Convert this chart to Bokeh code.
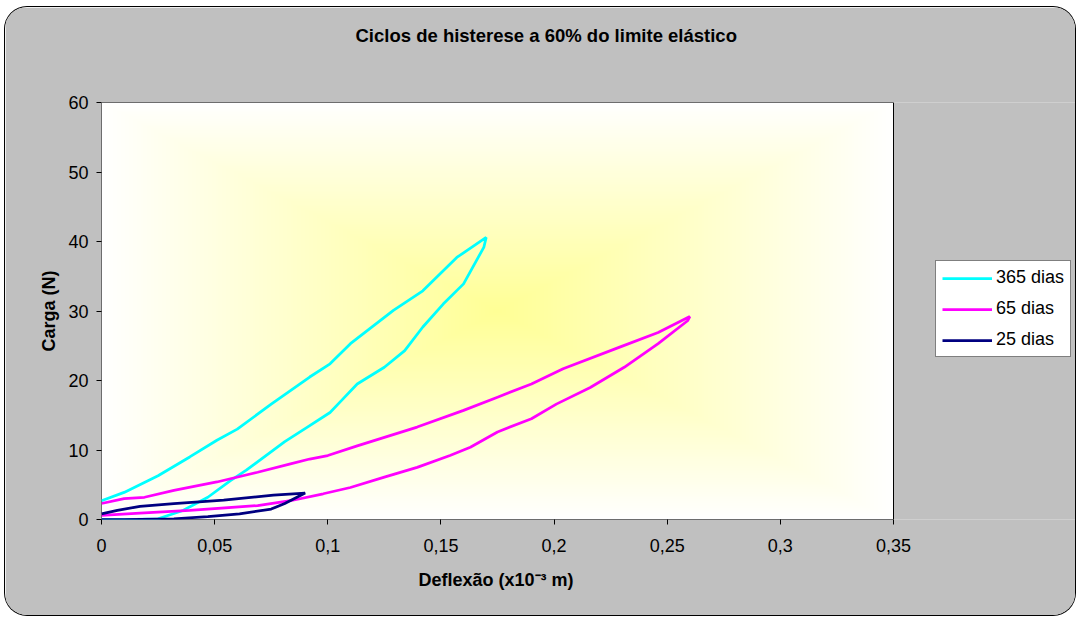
import numpy as np
from bokeh.plotting import figure
from bokeh.models import Range1d, FixedTicker, Legend, LegendItem, Title
from bokeh.embed import file_html
from bokeh.resources import INLINE

# ---- data ----
x365 = [0, 0.01, 0.025, 0.039, 0.051, 0.06, 0.075, 0.092, 0.101, 0.11, 0.129, 0.142, 0.157, 0.17,
        0.169, 0.16, 0.151, 0.142, 0.134, 0.125, 0.113, 0.106, 0.101, 0.091, 0.081, 0.064, 0.057,
        0.047, 0.036, 0.025, 0.01, 0]
y365 = [2.7, 3.9, 6.3, 9.0, 11.4, 13.0, 16.6, 20.5, 22.4, 25.3, 30.1, 32.9, 37.7, 40.6,
        39.2, 33.9, 31.0, 27.7, 24.3, 21.9, 19.5, 17.1, 15.4, 13.3, 11.2, 7.1, 5.6,
        3.2, 1.3, 0.1, 0, 0]

x65 = [0, 0.01, 0.019, 0.032, 0.051, 0.069, 0.0835, 0.092, 0.1, 0.113, 0.1395, 0.16, 0.175, 0.19,
       0.204, 0.229, 0.246, 0.26,
       0.259, 0.246, 0.231, 0.216, 0.201, 0.19, 0.175, 0.163, 0.154, 0.1395, 0.125, 0.11, 0.098,
       0.0835, 0.069, 0.039, 0.017, 0]
y65 = [2.3, 3.0, 3.2, 4.2, 5.4, 6.8, 8.0, 8.7, 9.2, 10.6, 13.3, 15.7, 17.6, 19.5,
       21.7, 24.8, 26.9, 29.2,
       28.6, 25.3, 21.9, 19.0, 16.6, 14.5, 12.6, 10.4, 9.2, 7.5, 6.1, 4.6, 3.7,
       2.7, 2.0, 1.3, 0.9, 0.6]

x25 = [0, 0.007, 0.017, 0.032, 0.054, 0.076, 0.09, 0.081, 0.075, 0.061, 0.047, 0.032, 0.01, 0]
y25 = [0.8, 1.3, 1.9, 2.3, 2.8, 3.5, 3.8, 2.3, 1.5, 0.8, 0.4, 0.1, 0, 0]

series_names = ["365 dias", "65 dias", "25 dias"]
series_colors = ["#00FFFF", "#FF00FF", "#000080"]

x_min, x_max = 0, 0.35
y_min, y_max = 0, 60
x_ticks = [0, 0.05, 0.1, 0.15, 0.2, 0.25, 0.3, 0.35]
x_tick_labels = ["0", "0,05", "0,1", "0,15", "0,2", "0,25", "0,3", "0,35"]
y_ticks = [0, 10, 20, 30, 40, 50, 60]

title_text = "Ciclos de histerese a 60% do limite elástico"
x_label = "Deflexão (x10⁻³ m)"
y_label = "Carga (N)"

FONT = "Liberation Sans"
FS = "18px"
GREY = "#C0C0C0"

# layout (pixels)
W, H = 1070, 608
LEFT, TOP, BOTTOM = 96, 95, 96
PLOT_W = 792                      # width of the white plot area
FRAME_W = W - LEFT                # frame extends to the right edge (legend lives there)
x_view_max = x_max * FRAME_W / PLOT_W

p = figure(width=W, height=H, x_range=Range1d(x_min, x_view_max), y_range=Range1d(y_min, y_max),
           output_backend="svg", toolbar_location=None,
           min_border_left=LEFT, min_border_right=0, min_border_top=TOP, min_border_bottom=BOTTOM)
p.margin = (7, 0, 0, 5)
p.styles = {"border-radius": "22px", "overflow": "hidden", "box-shadow": "0 0 0 1px #000000"}

p.border_fill_color = GREY
p.background_fill_color = GREY
p.outline_line_color = None

# plot area background gradient (from centre: light yellow -> white)
nx, ny = 400, 240
u = np.abs(np.linspace(-1, 1, nx))[None, :]
v = np.abs(np.linspace(-1, 1, ny))[:, None]
t = np.maximum(u, v)
b = (150 + (255 - 150) * t).astype(np.uint32)
img = (np.uint32(255) << 24) | (b << 16) | (np.uint32(255) << 8) | np.uint32(255)
p.image_rgba(image=[img.astype(np.uint32)], x=x_min, y=y_min, dw=x_max - x_min, dh=y_max - y_min,
             level="image")
# plot area border
p.quad(left=[x_min], right=[x_max], bottom=[y_min], top=[y_max], fill_color=None,
       line_color="black", line_width=1, level="underlay")

p.xgrid.visible = False
p.ygrid.visible = False

r1 = p.line(x365, y365, line_color=series_colors[0], line_width=2.75)
r2 = p.line(x65, y65, line_color=series_colors[1], line_width=2.75)
r3 = p.line(x25, y25, line_color=series_colors[2], line_width=2.75)

legend = Legend(items=[LegendItem(label=series_names[0], renderers=[r1]),
                       LegendItem(label=series_names[1], renderers=[r2]),
                       LegendItem(label=series_names[2], renderers=[r3])],
                location=(834, 162))
legend.border_line_color = "black"
legend.border_line_width = 1
legend.background_fill_color = "white"
legend.background_fill_alpha = 1
legend.label_text_font = FONT
legend.label_text_font_size = FS
legend.label_text_color = "black"
legend.glyph_width = 50
legend.glyph_height = 20
legend.label_height = 20
legend.label_standoff = 4
legend.spacing = 10
legend.padding = 6
legend.margin = 0
p.add_layout(legend)

for ax in (p.xaxis[0], p.yaxis[0]):
    ax.axis_line_color = None
    ax.major_tick_line_color = "black"
    ax.major_tick_out = 5
    ax.major_tick_in = 0
    ax.minor_tick_line_color = None
    ax.major_label_text_font = FONT
    ax.major_label_text_font_size = FS
    ax.major_label_text_color = "black"
    ax.axis_label_text_font = FONT
    ax.axis_label_text_font_size = FS
    ax.axis_label_text_font_style = "bold"
    ax.axis_label_text_color = "black"

p.xaxis.ticker = FixedTicker(ticks=x_ticks)
p.xaxis.major_label_overrides = dict(zip(x_ticks, x_tick_labels))
p.xaxis.major_label_standoff = 14

p.yaxis.ticker = FixedTicker(ticks=y_ticks)
p.yaxis.major_label_standoff = 8
p.yaxis.axis_label = y_label
p.yaxis.axis_label_standoff = 6

# x axis title (placed below the tick labels, centred under the plot area)
p.add_layout(Title(text=x_label, align="left", offset=317, vertical_align="top", standoff=30,
                   text_font=FONT, text_font_size=FS, text_font_style="bold",
                   text_color="black"), "below")

# chart title, kept away from the frame by a spacer drawn in the background colour
p.title.text = ""
p.add_layout(Title(text=".", text_font_size="10px", text_color=GREY, standoff=45), "above")
p.add_layout(Title(text=title_text, align="left", offset=254, vertical_align="top", standoff=0,
                   text_font=FONT, text_font_size="18.5px", text_font_style="bold",
                   text_color="black"), "above")

open("out.html", "w").write(file_html(p, INLINE))
